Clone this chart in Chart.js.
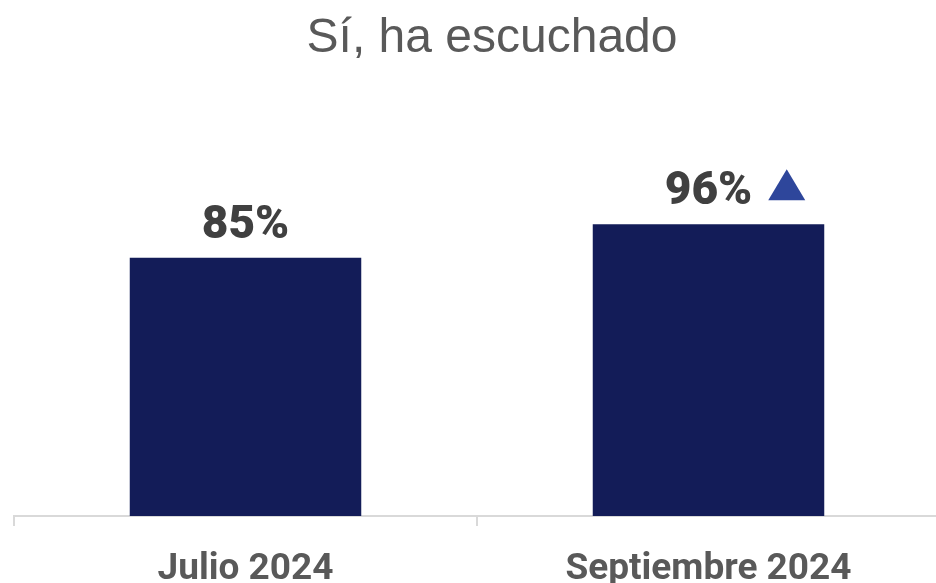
<!DOCTYPE html>
<html>
<head>
<meta charset="utf-8">
<script src="https://cdn.jsdelivr.net/npm/chart.js@4.4.1/dist/chart.umd.min.js"></script>
<style>
  html, body { margin: 0; padding: 0; background: #fff; overflow: hidden; }
  #wrap { width: 940px; height: 583px; }
</style>
</head>
<body>
<div id="wrap"><canvas id="c"></canvas></div>
<script>
const categories = ['Julio 2024', 'Septiembre 2024'];
const values = [85, 96];
const upArrow = [false, true];   // significant increase marker
const title = 'Sí, ha escuchado';

// title is drawn by hand: in the original it sits a bit right of centre
const titleText = {
  id: 'titleText',
  afterDraw(chart) {
    const ctx = chart.ctx;
    ctx.save();
    ctx.font = '48px "Liberation Sans"';
    ctx.fillStyle = '#595959';
    ctx.textAlign = 'center';
    ctx.textBaseline = 'alphabetic';
    ctx.fillText(title, 492, 52);
    ctx.restore();
  }
};

// data labels + triangle marker drawn above each bar
const barLabels = {
  id: 'barLabels',
  afterDatasetsDraw(chart) {
    const ctx = chart.ctx;
    const meta = chart.getDatasetMeta(0);
    ctx.save();
    ctx.font = '900 46px Roboto';
    ctx.fillStyle = '#404040';
    ctx.textAlign = 'center';
    ctx.textBaseline = 'alphabetic';
    meta.data.forEach((bar, i) => {
      const txt = values[i] + '%';
      const y = bar.y - 20;
      ctx.fillText(txt, bar.x, y);
      if (upArrow[i]) {
        const w = ctx.measureText(txt).width;
        const left = bar.x + w / 2 + 16;
        const bottom = y - 4;
        ctx.beginPath();
        ctx.moveTo(left, bottom);
        ctx.lineTo(left + 37, bottom);
        ctx.lineTo(left + 18.5, bottom - 31);
        ctx.closePath();
        ctx.fillStyle = '#2E469B';
        ctx.fill();
        ctx.fillStyle = '#404040';
      }
    });
    ctx.restore();
  }
};

new Chart(document.getElementById('c'), {
  type: 'bar',
  data: {
    labels: categories,
    datasets: [{
      data: values,
      backgroundColor: '#131C58',
      barPercentage: 0.5,
      categoryPercentage: 1.0
    }]
  },
  options: {
    responsive: true,
    maintainAspectRatio: false,
    animation: false,
    layout: { padding: { left: 14, right: 0, top: 121, bottom: -30 } },
    plugins: {
      legend: { display: false },
      tooltip: { enabled: false },
      title: { display: false }
    },
    scales: {
      x: {
        grid: {
          display: true,
          drawOnChartArea: false,
          drawTicks: true,
          tickLength: 10,
          color: '#d9d9d9',
          lineWidth: 2
        },
        border: { display: true, color: '#d9d9d9', width: 2 },
        ticks: {
          color: '#595959',
          padding: 25,
          font: { family: 'Roboto', size: 37, weight: 'bold', lineHeight: 1.0 }
        }
      },
      y: {
        display: false,
        min: 0,
        max: 130
      }
    }
  },
  plugins: [barLabels, titleText]
});
</script>
</body>
</html>
